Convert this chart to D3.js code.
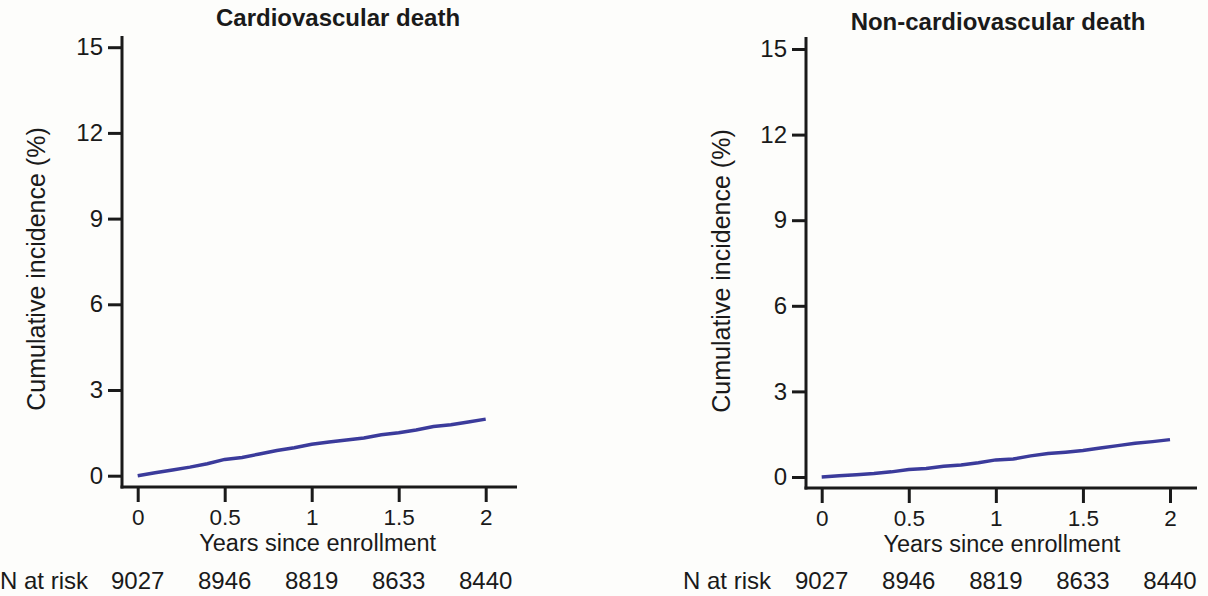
<!DOCTYPE html>
<html>
<head>
<meta charset="utf-8">
<script src="https://cdn.jsdelivr.net/npm/d3@7"></script>
<style>
body { margin: 0; background: #fdfdfb; }
svg { display: block; }
</style>
</head>
<body>
<script>
var width = 1208, height = 596;

var years = [0, 0.1, 0.2, 0.3, 0.4, 0.5, 0.6, 0.7, 0.8, 0.9, 1.0, 1.1, 1.2, 1.3, 1.4, 1.5, 1.6, 1.7, 1.8, 1.9, 2.0];
var cvDeath = [0, 0.1, 0.2, 0.3, 0.42, 0.57, 0.64, 0.76, 0.88, 0.98, 1.1, 1.18, 1.25, 1.32, 1.43, 1.5, 1.6, 1.72, 1.78, 1.88, 1.98];
var nonCvDeath = [0, 0.04, 0.08, 0.12, 0.18, 0.26, 0.3, 0.38, 0.42, 0.5, 0.6, 0.63, 0.74, 0.82, 0.87, 0.93, 1.02, 1.1, 1.18, 1.24, 1.31];
var xTicks = [0, 0.5, 1, 1.5, 2];
var yTicks = [0, 3, 6, 9, 12, 15];
var nAtRisk = [9027, 8946, 8819, 8633, 8440];
var titles = ["Cardiovascular death", "Non-cardiovascular death"];

var font = "'Liberation Sans', Arial, sans-serif";
var ink = "#1a1a1a";
var lineColor = "#3b3b9b";

var svg = d3.select("body")
	.append("svg")
	.attr("width", width)
	.attr("height", height);

// one panel = one cumulative incidence plot
function drawPanel(p){
	var x = d3.scaleLinear().domain([0, 2]).range([p.x0, p.x1]);
	var y = d3.scaleLinear().domain([0, 15]).range([p.y0, p.y1]);
	var g = svg.append("g");

	// y axis
	var yAxis = g.append("g")
		.attr("transform", "translate(" + p.axisX + ",0)")
		.call(d3.axisLeft(y).tickValues(yTicks).tickSize(14).tickPadding(5));
	yAxis.select(".domain").remove();
	yAxis.append("line")
		.attr("x1", 0).attr("x2", 0)
		.attr("y1", p.axisTop).attr("y2", p.axisY + 1.5)
		.attr("stroke", ink).attr("stroke-width", 3);
	yAxis.selectAll(".tick text").attr("font-size", 24);

	// x axis
	var xAxis = g.append("g")
		.attr("transform", "translate(0," + p.axisY + ")")
		.call(d3.axisBottom(x).tickValues(xTicks).tickSize(15).tickPadding(7)
			.tickFormat(function(d){ return d3.format("")(d); }));
	xAxis.select(".domain").remove();
	xAxis.append("line")
		.attr("x1", p.axisX - 1.5).attr("x2", p.axisRight)
		.attr("y1", 0).attr("y2", 0)
		.attr("stroke", ink).attr("stroke-width", 3);
	xAxis.selectAll(".tick text").attr("font-size", 22.5);

	g.selectAll(".tick line").attr("stroke", ink).attr("stroke-width", 3);
	g.selectAll(".tick text")
		.attr("fill", ink)
		.attr("font-family", font);

	// title
	g.append("text")
		.attr("x", p.titleX)
		.attr("y", p.titleY)
		.attr("text-anchor", "middle")
		.attr("font-family", font)
		.attr("font-weight", "bold")
		.attr("font-size", 24)
		.attr("fill", ink)
		.text(p.title);

	// axis titles
	g.append("text")
		.attr("transform", "translate(" + p.yLabelX + "," + p.yLabelY + ") rotate(-90)")
		.attr("text-anchor", "middle")
		.attr("font-family", font)
		.attr("font-size", 25)
		.attr("fill", ink)
		.text("Cumulative incidence (%)");

	g.append("text")
		.attr("x", x(1) + 6)
		.attr("y", p.axisY + 64)
		.attr("text-anchor", "middle")
		.attr("font-family", font)
		.attr("font-size", 23.5)
		.attr("fill", ink)
		.text("Years since enrollment");

	// number at risk row
	g.append("text")
		.attr("x", p.riskX)
		.attr("y", 589)
		.attr("font-family", font)
		.attr("font-size", 24)
		.attr("fill", ink)
		.text("N at risk");

	g.selectAll(".risk")
		.data(nAtRisk)
		.enter()
		.append("text")
		.attr("x", function(d, i){ return x(xTicks[i]); })
		.attr("y", 589)
		.attr("text-anchor", "middle")
		.attr("font-family", font)
		.attr("font-size", 24)
		.attr("fill", ink)
		.text(function(d){ return d; });

	// the curve
	var line = d3.line()
		.x(function(d, i){ return x(years[i]); })
		.y(function(d){ return y(d); });

	g.append("path")
		.datum(p.values)
		.attr("d", line)
		.attr("fill", "none")
		.attr("stroke", lineColor)
		.attr("stroke-width", 3.5);
}

drawPanel({
	title: titles[0], values: cvDeath,
	x0: 137.7, x1: 485.7, y0: 475.7, y1: 47.2,
	axisX: 122, axisY: 487, axisTop: 36, axisRight: 517,
	titleX: 338, titleY: 26, yLabelX: 45, yLabelY: 269, riskX: 0
});

drawPanel({
	title: titles[1], values: nonCvDeath,
	x0: 821.7, x1: 1170, y0: 477, y1: 49,
	axisX: 806, axisY: 488, axisTop: 37, axisRight: 1197,
	titleX: 998, titleY: 30, yLabelX: 730, yLabelY: 271, riskX: 683
});
</script>
</body>
</html>
